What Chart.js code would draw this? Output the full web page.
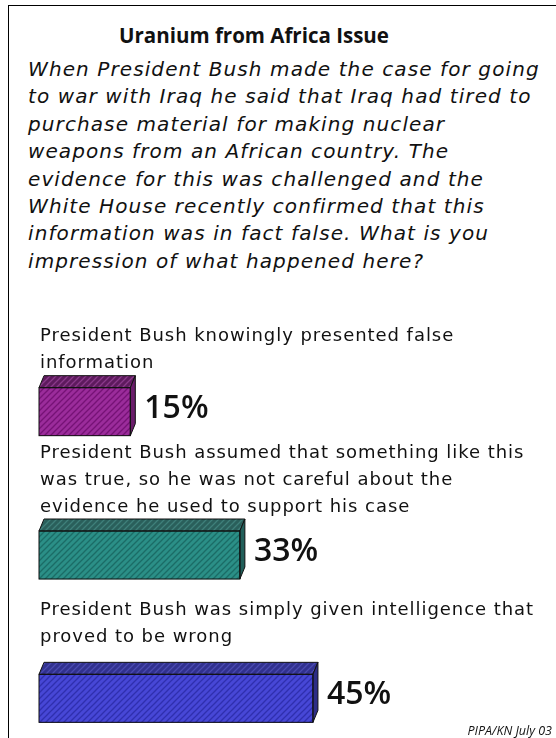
<!DOCTYPE html>
<html>
<head>
<meta charset="utf-8">
<script src="https://cdn.jsdelivr.net/npm/chart.js@4.4.1/dist/chart.umd.min.js"></script>
<style>
  html, body { margin: 0; width: 556px; height: 738px; overflow: hidden; background: #fff; }
  body { font-family: "DejaVu Sans", sans-serif; color: #111; position: relative; }
  #frame { position: absolute; left: 8px; top: 5px; right: -2px; bottom: -2px; border-left: 1.5px solid #000; border-top: 1.5px solid #000; }
  #title { position: absolute; left: 0; width: 508px; top: 21px; text-align: center; font-family: "Open Sans", sans-serif; font-size: 20.5px; font-weight: 700; }
  #question { position: absolute; left: 28px; top: 56px; font-size: 20px; font-style: italic; line-height: 27.4px; letter-spacing: 1.1px; white-space: nowrap; }
  #wrap { position: absolute; left: 0; top: 300px; width: 556px; height: 470px; }
  #source { position: absolute; right: 4px; top: 722px; font-family: "Open Sans", sans-serif; font-size: 12.5px; font-style: italic; }
</style>
</head>
<body>
<div id="frame"></div>
<div id="title">Uranium from Africa Issue</div>
<div id="question">When President Bush made the case for going<br>to war with Iraq he said that Iraq had tired to<br>purchase material for making nuclear<br>weapons from an African country. The<br>evidence for this was challenged and the<br>White House recently confirmed that this<br>information was in fact false. What is you<br>impression of what happened here?</div>
<div id="wrap"><canvas id="chart"></canvas></div>
<div id="source">PIPA/KN July 03</div>
<script>
const categories = [
  ["President Bush knowingly presented false", "information"],
  ["President Bush assumed that something like this", "was true, so he was not careful about the", "evidence he used to support his case"],
  ["President Bush was simply given intelligence that", "proved to be wrong"]
];
const values = [15, 33, 45];
const valueLabels = ["15%", "33%", "45%"];

const faceColors = [
  { front: "#9b2c9b", stripe: "#761276", top: "#5e1a5e", topStripe: "#8a3a8a", side: "#6a1c6a" },
  { front: "#2b8f87", stripe: "#1b6c66", top: "#2a5f5b", topStripe: "#3f7f7a", side: "#215f5a" },
  { front: "#4747d6", stripe: "#2f2fae", top: "#31318f", topStripe: "#4a4ab0", side: "#2d2d86" }
];

function makePattern(base, stripe) {
  const c = document.createElement("canvas");
  c.width = 6; c.height = 6;
  const g = c.getContext("2d");
  g.fillStyle = base;
  g.fillRect(0, 0, 6, 6);
  g.strokeStyle = stripe;
  g.lineWidth = 1.3;
  g.beginPath();
  g.moveTo(-1, 7); g.lineTo(7, -1);
  g.moveTo(-1, 1); g.lineTo(1, -1);
  g.moveTo(5, 7); g.lineTo(7, 5);
  g.stroke();
  return g.createPattern(c, "repeat");
}

const ctx0 = document.getElementById("chart").getContext("2d");
const frontPatterns = faceColors.map(f => makePattern(f.front, f.stripe));
const topPatterns = faceColors.map(f => makePattern(f.top, f.topStripe));

const DX = 5, DY = 12;

const boxPlugin = {
  id: "box3d",
  afterDatasetsDraw(chart) {
    const ctx = chart.ctx;
    const meta = chart.getDatasetMeta(0);
    let prevBottom = null;
    meta.data.forEach((bar, i) => {
      const p = bar.getProps(["x", "y", "base", "height"], true);
      const left = p.base, right = p.x;
      const top = p.y - p.height / 2, bottom = p.y + p.height / 2;
      ctx.save();
      ctx.lineWidth = 1;
      ctx.strokeStyle = "#111";
      // top face
      ctx.beginPath();
      ctx.moveTo(left, top);
      ctx.lineTo(left + DX, top - DY);
      ctx.lineTo(right + DX, top - DY);
      ctx.lineTo(right, top);
      ctx.closePath();
      ctx.fillStyle = topPatterns[i];
      ctx.fill();
      ctx.stroke();
      // side face
      ctx.beginPath();
      ctx.moveTo(right, top);
      ctx.lineTo(right + DX, top - DY);
      ctx.lineTo(right + DX, bottom - DY);
      ctx.lineTo(right, bottom);
      ctx.closePath();
      ctx.fillStyle = faceColors[i].side;
      ctx.fill();
      ctx.stroke();
      // front outline
      ctx.strokeRect(left, top, right - left, bottom - top);

      // value label
      ctx.fillStyle = "#111";
      ctx.font = "600 32px 'Open Sans', sans-serif";
      ctx.textBaseline = "middle";
      ctx.textAlign = "left";
      ctx.fillText(valueLabels[i], right + DX + 9, p.y - 3);

      // category label above the bar
      const lines = chart.data.labels[i];
      ctx.font = "18px 'DejaVu Sans', sans-serif";
      if ("letterSpacing" in ctx) ctx.letterSpacing = "0.95px";
      const lh = 27;
      let firstY;
      if (prevBottom === null) {
        firstY = top - DY - 12 - (lines.length - 1) * lh;
      } else {
        const mid = (prevBottom + top - DY) / 2 + 3;
        firstY = mid - (lines.length - 1) * lh / 2;
      }
      lines.forEach((ln, k) => {
        ctx.fillText(ln, 40, firstY + k * lh);
      });
      ctx.restore();
      prevBottom = bottom;
    });
  }
};

new Chart(ctx0, {
  type: "bar",
  data: {
    labels: categories,
    datasets: [{
      data: values,
      backgroundColor: frontPatterns,
      borderWidth: 0,
      barThickness: 48
    }]
  },
  options: {
    indexAxis: "y",
    responsive: true,
    maintainAspectRatio: false,
    animation: false,
    events: [],
    layout: { padding: { top: 40, left: 39, right: 30, bottom: 0 } },
    plugins: {
      legend: { display: false },
      tooltip: { enabled: false }
    },
    scales: {
      x: { min: 0, max: 80, display: false },
      y: { display: false }
    }
  },
  plugins: [boxPlugin]
});
</script>
</body>
</html>
